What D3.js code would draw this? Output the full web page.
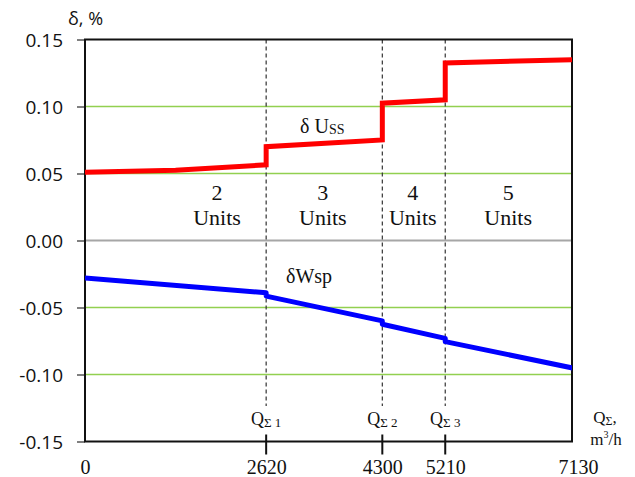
<!DOCTYPE html>
<html>
<head>
<meta charset="utf-8">
<script src="https://cdn.jsdelivr.net/npm/d3@7"></script>
<style>
  html, body { margin: 0; padding: 0; background: #fff; }
  svg { display: block; }
  .serif { font-family: "Liberation Serif", "Times New Roman", serif; fill: #111; }
  .sans { font-family: "Open Sans", "Liberation Sans", sans-serif; fill: #111; }
</style>
</head>
<body>
<svg id="chart" width="635" height="477"></svg>
<script>
// Total flow on the x axis (m³/h) and relative deviation δ (%) on the y axis
const flowTicks = [0, 2620, 4300, 5210, 7130];
const deltaTicks = [-0.15, -0.10, -0.05, 0.00, 0.05, 0.10, 0.15];
const switchFlows = [2620, 4300, 5210];
const switchNames = ["Σ 1", "Σ 2", "Σ 3"];

// δ U_ss – steps up each time another unit is switched on
const ussFlow  = [0, 1310, 2620, 2620, 4300, 4300, 5210, 5210, 7130];
const ussValue = [0.051, 0.0525, 0.0565, 0.070, 0.075, 0.1025, 0.105, 0.1325, 0.135];

// δW_sp – falls steadily with small notches at each switch point
const wspFlow  = [0, 2620, 2620, 4300, 4300, 5210, 5210, 7130];
const wspValue = [-0.028, -0.039, -0.0415, -0.060, -0.0625, -0.073, -0.0755, -0.096];

// Number of running units in each flow band
const unitCounts = ["2", "3", "4", "5"];
const unitLabelFlow = [1910, 3440, 4740, 6120];

const svg = d3.select("#chart");
const plotLeft = 85, plotTop = 39.5, plotBottom = 441.5, plotRight = 572;

const x = d3.scaleLinear().domain([0, 7130]).range([plotLeft, 578]);
const y = d3.scaleLinear().domain([-0.15, 0.15]).range([plotBottom, plotTop]);

svg.append("defs").append("clipPath").attr("id", "plot-clip")
  .append("rect").attr("x", plotLeft).attr("y", plotTop)
  .attr("width", plotRight - plotLeft).attr("height", plotBottom - plotTop);

// Horizontal grid lines: green, with a grey zero line
svg.append("g").selectAll("line")
  .data(deltaTicks.filter(d => Math.abs(d) > 1e-9 && Math.abs(d) < 0.149))
  .join("line")
  .attr("x1", plotLeft).attr("x2", plotRight)
  .attr("y1", d => y(d)).attr("y2", d => y(d))
  .attr("stroke", "#92d050").attr("stroke-width", 1.5);

svg.append("line")
  .attr("x1", plotLeft).attr("x2", plotRight)
  .attr("y1", y(0)).attr("y2", y(0))
  .attr("stroke", "#a6a6a6").attr("stroke-width", 2);

// Dashed markers at the switching flows
svg.append("g").selectAll("line")
  .data(switchFlows)
  .join("line")
  .attr("x1", d => x(d)).attr("x2", d => x(d))
  .attr("y1", plotTop).attr("y2", 406)
  .attr("stroke", "#333").attr("stroke-width", 1.2)
  .attr("stroke-dasharray", "4,3");

// Y axis with grey ticks; plain hyphen for negatives
const fmt2 = d3.format(".2f");
const yAxis = d3.axisLeft(y).tickValues(deltaTicks).tickSize(8).tickPadding(14)
  .tickFormat(d => fmt2(d).replace("\u2212", "-"));
const yg = svg.append("g").attr("transform", `translate(${plotLeft},0)`).call(yAxis);
yg.select(".domain").remove();
yg.selectAll(".tick line").attr("stroke", "#808080").attr("stroke-width", 2);
yg.selectAll(".tick text").attr("class", "sans").attr("font-size", 19)
  .attr("fill", "#111").attr("dy", "0.36em");

// X axis: ticks crossing the baseline at the switching flows
const xAxis = d3.axisBottom(x).tickValues(flowTicks).tickSize(0).tickPadding(22)
  .tickFormat(d3.format("d"));
const xg = svg.append("g").attr("transform", `translate(0,${plotBottom})`).call(xAxis);
xg.select(".domain").remove();
xg.selectAll(".tick text").attr("class", "serif").attr("font-size", 20)
  .attr("fill", "#111").attr("dy", "0.5em");
svg.append("g").selectAll("line")
  .data(switchFlows)
  .join("line")
  .attr("x1", d => x(d)).attr("x2", d => x(d))
  .attr("y1", plotBottom - 7).attr("y2", plotBottom + 13)
  .attr("stroke", "#111").attr("stroke-width", 2);

// Plot frame
svg.append("rect")
  .attr("x", plotLeft).attr("y", plotTop)
  .attr("width", plotRight - plotLeft).attr("height", plotBottom - plotTop)
  .attr("fill", "none").attr("stroke", "#111").attr("stroke-width", 2);

// Series
const line = d3.line().x(d => x(d[0])).y(d => y(d[1]));
const series = svg.append("g").attr("clip-path", "url(#plot-clip)");
series.append("path")
  .datum(d3.zip(ussFlow, ussValue))
  .attr("d", line).attr("fill", "none")
  .attr("stroke", "#ff0000").attr("stroke-width", 5)
  .attr("stroke-linejoin", "miter");
series.append("path")
  .datum(d3.zip(wspFlow, wspValue))
  .attr("d", line).attr("fill", "none")
  .attr("stroke", "#0000ff").attr("stroke-width", 5)
  .attr("stroke-linejoin", "round");

// Axis titles
svg.append("text").attr("class", "sans").attr("x", 68).attr("y", 25)
  .attr("font-size", 18).text("δ, %");

const qTitle = svg.append("text").attr("class", "serif")
  .attr("x", 605).attr("y", 423).attr("text-anchor", "middle").attr("font-size", 17);
qTitle.append("tspan").text("Q");
qTitle.append("tspan").attr("font-size", 12).attr("dy", 2).text("Σ");
qTitle.append("tspan").attr("dy", -2).text(",");

const unitTitle = svg.append("text").attr("class", "serif")
  .attr("x", 606).attr("y", 445).attr("text-anchor", "middle").attr("font-size", 17);
unitTitle.append("tspan").text("m");
unitTitle.append("tspan").attr("font-size", 10).attr("dy", -7).text("3");
unitTitle.append("tspan").attr("dy", 7).text("/h");

// Switching flow names
svg.append("g").selectAll("text")
  .data(d3.zip(switchFlows, switchNames))
  .join("text")
  .attr("class", "serif")
  .attr("x", d => x(d[0])).attr("y", 425)
  .attr("text-anchor", "middle").attr("font-size", 18)
  .each(function(d) {
    const t = d3.select(this);
    t.append("tspan").text("Q");
    t.append("tspan").attr("font-size", 13).attr("dy", 2).text(d[1]);
  });

// Unit count bands
const bands = svg.append("g").selectAll("g")
  .data(d3.zip(unitLabelFlow, unitCounts))
  .join("g");
bands.append("text").attr("class", "serif")
  .attr("x", d => x(d[0])).attr("y", 200)
  .attr("text-anchor", "middle").attr("font-size", 22).text(d => d[1]);
bands.append("text").attr("class", "serif")
  .attr("x", d => x(d[0])).attr("y", 225)
  .attr("text-anchor", "middle").attr("font-size", 22).text("Units");

// Series names
const ussName = svg.append("text").attr("class", "serif")
  .attr("x", 300).attr("y", 133).attr("font-size", 20);
ussName.append("tspan").text("δ U");
ussName.append("tspan").attr("font-size", 14).attr("dy", 1).text("SS");

svg.append("text").attr("class", "serif")
  .attr("x", 286).attr("y", 283).attr("font-size", 20).text("δWsp");
</script>
</body>
</html>
